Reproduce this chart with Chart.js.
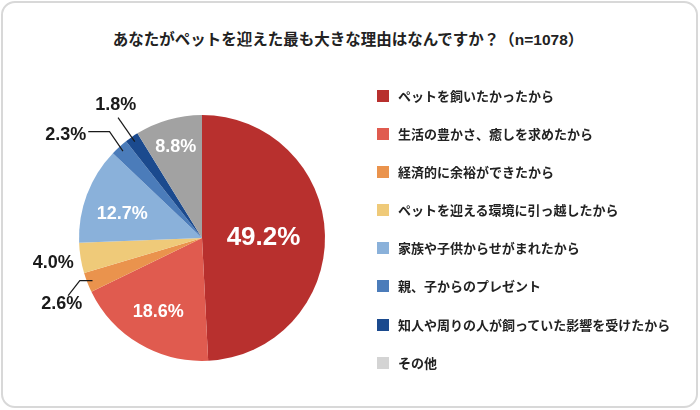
<!DOCTYPE html>
<html lang="ja">
<head>
<meta charset="utf-8">
<script src="https://cdn.jsdelivr.net/npm/chart.js@4.4.1/dist/chart.umd.min.js"></script>
<style>
    html, body {
        margin: 0;
        padding: 0;
        background: #ffffff;
    }
    .frame {
        position: absolute;
        left: 1px;
        top: 1px;
        width: 697px;
        height: 407px;
        box-sizing: border-box;
        border: 2px solid #d8d8d8;
        border-radius: 14px;
    }
    .title {
        position: absolute;
        left: 0;
        top: 30px;
        width: 696px;
        text-align: center;
        font-family: "Liberation Sans", "Noto Sans CJK JP", sans-serif;
        font-weight: bold;
        font-size: 15.5px;
        line-height: 20px;
        color: #222222;
    }
    canvas {
        position: absolute;
        left: 0;
        top: 0;
    }
    .legend {
        position: absolute;
        left: 377px;
        top: 87px;
        margin: 0;
        padding: 0;
        list-style: none;
    }
    .legend li {
        height: 38.1px;
        display: flex;
        align-items: flex-start;
        font-family: "Noto Sans CJK JP", sans-serif;
        font-weight: bold;
        font-size: 13px;
        line-height: 18px;
        color: #222222;
    }
    .legend .box {
        width: 12px;
        height: 12px;
        margin-top: 3px;
        margin-right: 9px;
        flex: none;
    }
</style>
</head>
<body>
<div class="frame"></div>
<div class="title">あなたがペットを迎えた最も大きな理由はなんですか？（n=1078）</div>
<canvas id="pie" width="700" height="410"></canvas>
<ul class="legend" id="legend"></ul>

<script>
/* Données */
const labels = [
    "ペットを飼いたかったから",
    "生活の豊かさ、癒しを求めたから",
    "経済的に余裕ができたから",
    "ペットを迎える環境に引っ越したから",
    "家族や子供からせがまれたから",
    "親、子からのプレゼント",
    "知人や周りの人が飼っていた影響を受けたから",
    "その他"
];
const values = [49.2, 18.6, 2.6, 4.0, 12.7, 2.3, 1.8, 8.8];
const sliceColors = ["#b8302e", "#e05b4f", "#ea934d", "#efca79", "#8ab1da", "#4b7cba", "#1b4a8e", "#a2a2a2"];
const legendColors = ["#b8302e", "#e05b4f", "#ea934d", "#efca79", "#8ab1da", "#4b7cba", "#1b4a8e", "#d4d4d4"];

// placement des étiquettes : r = fraction du rayon, da = décalage d'angle (deg)
const labelStyle = [
    { r: 0.50, da: 0.8, size: 26, color: "#ffffff" },
    { r: 0.69, da: 0.5, size: 18, color: "#ffffff" },
    { leader: [[-12.7, 0], [-11.7, 15]], text: [-6.3, 8.5], align: "center", size: 18, color: "#1a1a1a" },
    { r: 1.225, da: 0, size: 18, color: "#1a1a1a" },
    { r: 0.68, da: -3, size: 18, color: "#ffffff" },
    { leader: [[-13.4, -19.4], [-21.3, 0]], text: [-2, 3.5], align: "right", size: 18, color: "#1a1a1a" },
    { leader: [[-16.7, -24]], text: [-2.3, -12.3], align: "center", size: 18, color: "#1a1a1a" },
    { r: 0.78, da: 0, size: 18, color: "#ffffff" }
];

/* Étiquettes sur le camembert */
const pieLabels = {
    id: "pieLabels",
    afterDatasetsDraw(chart) {
        let ctx = chart.ctx;
        let arcs = chart.getDatasetMeta(0).data;
        ctx.save();
        arcs.forEach((arc, i) => {
            let st = labelStyle[i];
            let mid = (arc.startAngle + arc.endAngle) / 2;
            let R = arc.outerRadius;
            let text = values[i].toFixed(1) + "%";
            ctx.font = "bold " + st.size + "px 'Liberation Sans', Arial, sans-serif";
            ctx.fillStyle = st.color;
            ctx.textBaseline = "middle";

            if (st.leader) {
                // trait de rappel depuis le bord de la part
                let x = arc.x + Math.cos(mid) * R * 0.955;
                let y = arc.y + Math.sin(mid) * R * 0.955;
                ctx.beginPath();
                ctx.moveTo(x, y);
                st.leader.forEach(p => {
                    x += p[0];
                    y += p[1];
                    ctx.lineTo(x, y);
                });
                ctx.strokeStyle = "#1a1a1a";
                ctx.lineWidth = 1.2;
                ctx.stroke();
                ctx.textAlign = st.align;
                ctx.fillText(text, x + st.text[0], y + st.text[1]);
            } else {
                let a = mid + st.da * Math.PI / 180;
                ctx.textAlign = "center";
                ctx.fillText(text, arc.x + Math.cos(a) * R * st.r, arc.y + Math.sin(a) * R * st.r + 1);
            }
        });
        ctx.restore();
    }
};

let chart = new Chart(document.getElementById("pie").getContext("2d"), {
    type: "pie",
    data: {
        labels: labels,
        datasets: [{
            data: values,
            backgroundColor: sliceColors,
            borderWidth: 0
        }]
    },
    options: {
        responsive: false,
        animation: false,
        devicePixelRatio: 1,
        layout: {
            padding: { left: 79, top: 115, right: 375, bottom: 49 }
        },
        plugins: {
            legend: { display: false },
            title: { display: false },
            tooltip: { enabled: false }
        }
    },
    plugins: [pieLabels]
});

/* Légende HTML */
let legend = document.getElementById("legend");
labels.forEach((label, i) => {
    let li = document.createElement("li");
    let box = document.createElement("span");
    box.className = "box";
    box.style.background = legendColors[i];
    li.appendChild(box);
    li.appendChild(document.createTextNode(label));
    legend.appendChild(li);
});
</script>
</body>
</html>
